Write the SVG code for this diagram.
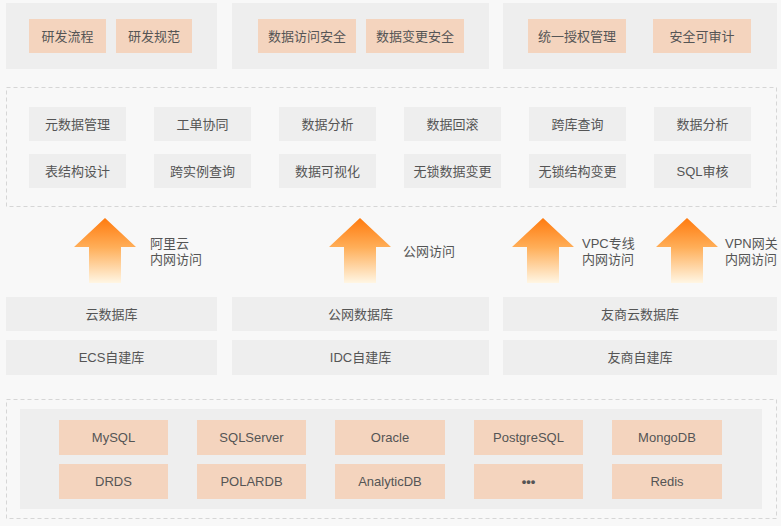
<svg xmlns="http://www.w3.org/2000/svg" width="781" height="526" viewBox="0 0 781 526">
<defs>
<linearGradient id="ag" x1="0" y1="0" x2="0" y2="1">
<stop offset="0" stop-color="#ff7a0e"/>
<stop offset="0.45" stop-color="#ffae58"/>
<stop offset="1" stop-color="#fff6e4"/>
</linearGradient>
<path id="arrow" d="M0,0 L31,29 L16,29 L16,65 L-16,65 L-16,29 L-31,29 Z"/>
</defs>
<style>
text{font-family:"Liberation Sans","Noto Sans CJK SC",sans-serif;font-size:13px;fill:#555555;}
.c{text-anchor:middle;}
.panel{fill:#eeeeee;}
.peach{fill:#f4d4be;}
.feat{fill:#eeeeee;}
.dash{fill:#f8f8f8;stroke:#d6d6d6;stroke-width:1;stroke-dasharray:4 3;}
</style>
<rect width="781" height="526" fill="#f8f8f8"/>

<g id="top">
<rect class="panel" x="6" y="3" width="211" height="66"/>
<rect class="panel" x="232" y="3" width="257" height="66"/>
<rect class="panel" x="503" y="3" width="274" height="66"/>
<g id="n-yflc"><rect class="peach" x="29" y="19" width="77" height="34"/><text class="c" x="67.5" y="40.5">研发流程</text></g>
<g id="n-yfgf"><rect class="peach" x="116" y="19" width="76" height="34"/><text class="c" x="154" y="40.5">研发规范</text></g>
<g id="n-sjfwaq"><rect class="peach" x="258" y="19" width="98" height="34"/><text class="c" x="307" y="40.5">数据访问安全</text></g>
<g id="n-sjbgaq"><rect class="peach" x="366" y="19" width="98" height="34"/><text class="c" x="415" y="40.5">数据变更安全</text></g>
<g id="n-tysqgl"><rect class="peach" x="528" y="19" width="98" height="34"/><text class="c" x="577" y="40.5">统一授权管理</text></g>
<g id="n-aqksj"><rect class="peach" x="653" y="19" width="98" height="34"/><text class="c" x="702" y="40.5">安全可审计</text></g>
</g>

<g id="features">
<rect class="dash" x="6.5" y="87.5" width="770" height="119"/>
<g id="f1"><rect class="feat" x="29" y="107" width="97" height="34"/><text class="c" x="77.5" y="128.5">元数据管理</text></g>
<g id="f2"><rect class="feat" x="154" y="107" width="97" height="34"/><text class="c" x="202.5" y="128.5">工单协同</text></g>
<g id="f3"><rect class="feat" x="279" y="107" width="97" height="34"/><text class="c" x="327.5" y="128.5">数据分析</text></g>
<g id="f4"><rect class="feat" x="404" y="107" width="97" height="34"/><text class="c" x="452.5" y="128.5">数据回滚</text></g>
<g id="f5"><rect class="feat" x="529" y="107" width="97" height="34"/><text class="c" x="577.5" y="128.5">跨库查询</text></g>
<g id="f6"><rect class="feat" x="654" y="107" width="97" height="34"/><text class="c" x="702.5" y="128.5">数据分析</text></g>
<g id="f7"><rect class="feat" x="29" y="154" width="97" height="34"/><text class="c" x="77.5" y="175.5">表结构设计</text></g>
<g id="f8"><rect class="feat" x="154" y="154" width="97" height="34"/><text class="c" x="202.5" y="175.5">跨实例查询</text></g>
<g id="f9"><rect class="feat" x="279" y="154" width="97" height="34"/><text class="c" x="327.5" y="175.5">数据可视化</text></g>
<g id="f10"><rect class="feat" x="404" y="154" width="97" height="34"/><text class="c" x="452.5" y="175.5">无锁数据变更</text></g>
<g id="f11"><rect class="feat" x="529" y="154" width="97" height="34"/><text class="c" x="577.5" y="175.5">无锁结构变更</text></g>
<g id="f12"><rect class="feat" x="654" y="154" width="97" height="34"/><text class="c" x="702.5" y="175.5">SQL审核</text></g>
</g>

<g id="connectors">
<use href="#arrow" x="105" y="218" fill="url(#ag)"/>
<use href="#arrow" x="360" y="218" fill="url(#ag)"/>
<use href="#arrow" x="543" y="218" fill="url(#ag)"/>
<use href="#arrow" x="687" y="218" fill="url(#ag)"/>
<text x="150" y="248">阿里云</text>
<text x="150" y="264">内网访问</text>
<text x="403" y="256">公网访问</text>
<text x="582" y="248">VPC专线</text>
<text x="582" y="264">内网访问</text>
<text x="725" y="248">VPN网关</text>
<text x="725" y="264">内网访问</text>
</g>

<g id="sources">
<g id="s1"><rect class="panel" x="6" y="297" width="211" height="34"/><text class="c" x="111.5" y="318.5">云数据库</text></g>
<g id="s2"><rect class="panel" x="232" y="297" width="257" height="34"/><text class="c" x="360.5" y="318.5">公网数据库</text></g>
<g id="s3"><rect class="panel" x="503" y="297" width="274" height="34"/><text class="c" x="640" y="318.5">友商云数据库</text></g>
<g id="s4"><rect class="panel" x="6" y="340" width="211" height="35"/><text class="c" x="111.5" y="362">ECS自建库</text></g>
<g id="s5"><rect class="panel" x="232" y="340" width="257" height="35"/><text class="c" x="360.5" y="362">IDC自建库</text></g>
<g id="s6"><rect class="panel" x="503" y="340" width="274" height="35"/><text class="c" x="640" y="362">友商自建库</text></g>
</g>

<g id="engines">
<rect class="dash" x="6.5" y="399.5" width="770" height="119"/>
<rect class="panel" x="20" y="409" width="742" height="100"/>
<g id="e1"><rect class="peach" x="59" y="420" width="109" height="35"/><text class="c" x="113.5" y="442">MySQL</text></g>
<g id="e2"><rect class="peach" x="197" y="420" width="109" height="35"/><text class="c" x="251.5" y="442">SQLServer</text></g>
<g id="e3"><rect class="peach" x="335" y="420" width="110" height="35"/><text class="c" x="390" y="442">Oracle</text></g>
<g id="e4"><rect class="peach" x="474" y="420" width="109" height="35"/><text class="c" x="528.5" y="442">PostgreSQL</text></g>
<g id="e5"><rect class="peach" x="612" y="420" width="110" height="35"/><text class="c" x="667" y="442">MongoDB</text></g>
<g id="e6"><rect class="peach" x="59" y="464" width="109" height="35"/><text class="c" x="113.5" y="486">DRDS</text></g>
<g id="e7"><rect class="peach" x="197" y="464" width="109" height="35"/><text class="c" x="251.5" y="486">POLARDB</text></g>
<g id="e8"><rect class="peach" x="335" y="464" width="110" height="35"/><text class="c" x="390" y="486">AnalyticDB</text></g>
<g id="e9"><rect class="peach" x="474" y="464" width="109" height="35"/><text class="c" x="528.5" y="486" style="font-weight:bold">•••</text></g>
<g id="e10"><rect class="peach" x="612" y="464" width="110" height="35"/><text class="c" x="667" y="486">Redis</text></g>
</g>
</svg>
